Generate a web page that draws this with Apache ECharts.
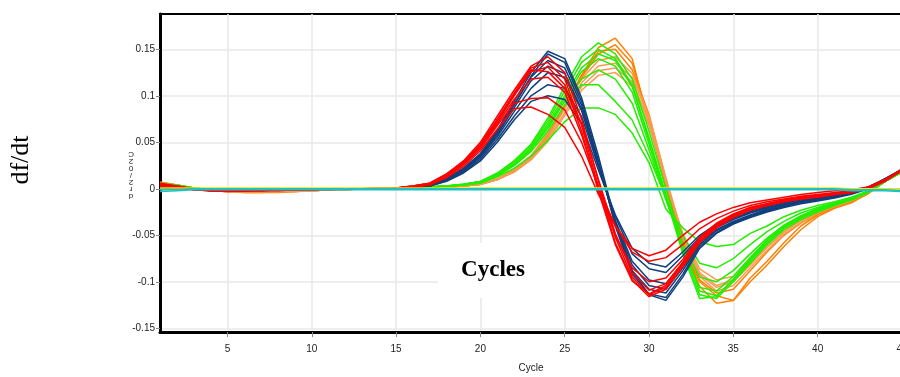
<!DOCTYPE html>
<html>
<head>
<meta charset="utf-8">
<script src="https://cdn.jsdelivr.net/npm/echarts@6/dist/echarts.min.js"></script>
<style>
  html, body { margin: 0; padding: 0; background: #fff; }
  #chart { width: 900px; height: 377px; }
</style>
</head>
<body>
<div id="chart"></div>
<script>
// cycles 1..45
const cycles = []
for (let c = 1; c <= 45; c++) cycles.push(c)

const yTicks = [-0.15, -0.1, -0.05, 0, 0.05, 0.1, 0.15]
const xTicks = [5, 10, 15, 20, 25, 30, 35, 40, 45]

// red group
const red1 = [.004,.002,-.001,-.002,-.002,-.002,-.002,-.001,-.001,-.001,0,0,0,.001,.001,
  .003,.006,.016,.030,.050,.078,.106,.132,.142,.125,.075,.008,-.052,-.095,-.114,
  -.106,-.082,-.056,-.040,-.030,-.022,-.018,-.014,-.011,-.008,-.006,-.004,0,.009,.021]
const red2 = [.005,.003,0,-.002,-.003,-.002,-.002,-.002,-.001,-.001,-.001,0,0,.001,.001,
  .003,.006,.015,.029,.048,.075,.103,.130,.136,.118,.068,.002,-.058,-.098,-.116,
  -.108,-.084,-.058,-.042,-.031,-.023,-.018,-.014,-.011,-.009,-.006,-.004,0,.008,.020]
const red3 = [.003,.001,-.001,-.002,-.002,-.002,-.001,-.001,-.001,-.001,0,0,0,0,.001,
  .002,.005,.014,.027,.046,.072,.100,.126,.131,.112,.062,-.003,-.060,-.099,-.113,
  -.104,-.080,-.054,-.039,-.029,-.021,-.017,-.013,-.010,-.008,-.005,-.003,.001,.009,.020]
const red4 = [.006,.003,0,-.001,-.002,-.002,-.002,-.001,-.001,-.001,0,0,0,.001,.001,
  .003,.006,.016,.029,.047,.074,.101,.128,.126,.108,.070,.010,-.048,-.090,-.109,
  -.102,-.079,-.053,-.038,-.028,-.020,-.016,-.012,-.009,-.007,-.005,-.003,.001,.010,.021]
const red5 = [.004,.002,0,-.001,-.002,-.002,-.001,-.001,-.001,0,0,0,0,0,.001,
  .002,.005,.014,.027,.045,.070,.096,.118,.120,.104,.058,.000,-.050,-.085,-.100,
  -.096,-.076,-.052,-.037,-.027,-.020,-.016,-.012,-.009,-.007,-.005,-.003,.001,.009,.020]
const red6 = [.003,.002,0,-.001,-.001,-.001,-.001,-.001,-.001,0,0,0,0,0,.001,
  .002,.005,.013,.026,.043,.068,.092,.097,.098,.085,.050,.002,-.040,-.068,-.078,
  -.074,-.060,-.043,-.032,-.024,-.018,-.014,-.011,-.008,-.006,-.004,-.002,.001,.009,.019]
const red7 = [.004,.002,-.001,-.002,-.002,-.001,-.001,-.001,-.001,0,0,0,0,0,.001,
  .002,.004,.012,.024,.041,.064,.086,.088,.080,.066,.035,-.006,-.040,-.064,-.072,
  -.066,-.050,-.036,-.027,-.020,-.015,-.012,-.009,-.006,-.004,-.002,-.001,.002,.010,.020]

// blue group
const blue1 = [.002,.001,0,-.001,-.001,-.001,-.001,-.001,-.001,0,0,0,0,0,.001,
  .002,.004,.011,.022,.038,.063,.094,.125,.148,.140,.098,.035,-.035,-.088,-.114,
  -.120,-.095,-.064,-.048,-.038,-.031,-.025,-.020,-.016,-.013,-.010,-.006,0,.010,.020]
const blue2 = [.002,.001,0,-.001,-.001,-.001,-.001,-.001,-.001,0,0,0,0,0,.001,
  .002,.004,.010,.021,.036,.060,.090,.121,.145,.136,.094,.030,-.040,-.092,-.113,
  -.117,-.092,-.062,-.047,-.037,-.030,-.024,-.019,-.015,-.012,-.009,-.005,.001,.011,.021]
const blue3 = [.001,.001,0,-.001,-.001,-.001,-.001,-.001,0,0,0,0,0,0,.001,
  .002,.004,.011,.022,.037,.061,.091,.120,.138,.130,.090,.028,-.038,-.088,-.108,
  -.112,-.088,-.060,-.045,-.036,-.029,-.023,-.018,-.014,-.011,-.008,-.005,0,.010,.020]
const blue4 = [.002,.001,0,-.001,-.001,-.001,-.001,-.001,-.001,0,0,0,0,0,.001,
  .002,.004,.010,.020,.035,.058,.087,.116,.132,.124,.086,.026,-.036,-.082,-.104,
  -.108,-.085,-.058,-.044,-.035,-.028,-.022,-.018,-.014,-.011,-.008,-.004,.001,.010,.020]
const blue5 = [.001,.001,0,-.001,-.001,-.001,-.001,-.001,0,0,0,0,0,0,.001,
  .002,.003,.009,.019,.034,.056,.083,.108,.125,.120,.084,.026,-.034,-.078,-.098,
  -.102,-.080,-.056,-.042,-.033,-.026,-.021,-.017,-.013,-.010,-.007,-.004,.001,.010,.020]
const blue6 = [.002,.001,0,-.001,-.001,-.001,-.001,0,0,0,0,0,0,0,.001,
  .002,.003,.009,.018,.032,.053,.078,.100,.112,.108,.078,.024,-.030,-.070,-.086,
  -.090,-.072,-.052,-.040,-.032,-.025,-.020,-.016,-.012,-.009,-.006,-.003,.002,.011,.021]
const blue7 = [.001,.001,0,-.001,-.001,-.001,-.001,0,0,0,0,0,0,0,.001,
  .001,.003,.008,.017,.030,.050,.074,.094,.100,.096,.070,.020,-.028,-.064,-.080,
  -.084,-.068,-.050,-.038,-.030,-.024,-.019,-.015,-.011,-.008,-.006,-.003,.002,.010,.020]

// green group
const green1 = [.005,.003,.001,-.001,-.002,-.002,-.001,-.001,-.001,-.001,0,0,0,0,0,
  .001,.002,.003,.005,.008,.016,.030,.048,.076,.110,.142,.157,.145,.118,.062,
  .000,-.060,-.110,-.115,-.098,-.078,-.058,-.042,-.031,-.023,-.017,-.011,-.003,.008,.018]
const green2 = [.006,.004,.001,-.001,-.002,-.002,-.002,-.001,-.001,-.001,0,0,0,0,0,
  .001,.002,.003,.005,.008,.017,.030,.047,.073,.105,.136,.150,.140,.112,.055,
  -.006,-.066,-.114,-.118,-.100,-.080,-.060,-.044,-.033,-.025,-.018,-.012,-.004,.008,.018]
const green3 = [.004,.003,.001,-.001,-.001,-.002,-.001,-.001,-.001,0,0,0,0,0,0,
  .001,.002,.003,.005,.008,.016,.028,.045,.070,.100,.130,.145,.138,.110,.052,
  -.008,-.070,-.118,-.116,-.097,-.076,-.056,-.041,-.031,-.023,-.017,-.011,-.003,.008,.019]
const green4 = [.005,.003,.001,-.001,-.002,-.002,-.001,-.001,-.001,-.001,0,0,0,0,0,
  .001,.002,.003,.004,.007,.015,.027,.043,.067,.097,.126,.140,.132,.104,.048,
  -.010,-.066,-.106,-.110,-.094,-.074,-.055,-.040,-.030,-.022,-.016,-.010,-.003,.008,.018]
const green5 = [.004,.002,.001,-.001,-.001,-.001,-.001,-.001,0,0,0,0,0,0,0,
  .001,.002,.003,.004,.007,.014,.026,.042,.065,.094,.118,.128,.118,.092,.042,
  -.012,-.060,-.095,-.100,-.088,-.070,-.053,-.039,-.029,-.021,-.015,-.010,-.003,.008,.018]
const green6 = [.005,.003,.001,-.001,-.002,-.001,-.001,-.001,0,0,0,0,0,0,0,
  .001,.002,.003,.004,.007,.014,.025,.040,.062,.090,.112,.112,.094,.074,.035,
  -.010,-.050,-.080,-.085,-.075,-.060,-.046,-.035,-.026,-.020,-.015,-.010,-.003,.008,.018]
const green7 = [.004,.002,0,-.001,-.001,-.001,-.001,0,0,0,0,0,0,0,0,
  .001,.002,.003,.004,.006,.013,.022,.035,.052,.072,.087,.087,.080,.060,.028,
  -.022,-.042,-.057,-.062,-.060,-.048,-.040,-.030,-.023,-.018,-.014,-.009,-.002,.008,.018]

// orange group
const orange1 = [.006,.004,.001,-.002,-.003,-.003,-.003,-.003,-.003,-.002,-.001,-.001,0,0,0,
  .001,.001,.002,.003,.005,.010,.019,.033,.055,.088,.122,.152,.162,.140,.070,
  .005,-.060,-.105,-.123,-.120,-.096,-.078,-.058,-.040,-.028,-.020,-.014,-.005,.008,.020]
const orange2 = [.007,.004,.001,-.002,-.003,-.004,-.004,-.003,-.003,-.002,-.001,-.001,0,0,0,
  .001,.001,.002,.003,.005,.010,.020,.035,.058,.090,.122,.148,.150,.128,.080,
  .010,-.055,-.098,-.112,-.108,-.088,-.068,-.050,-.037,-.027,-.020,-.014,-.005,.008,.020]
const orange3 = [.005,.003,.001,-.002,-.003,-.003,-.003,-.003,-.002,-.002,-.001,-.001,0,0,0,
  .001,.001,.002,.003,.005,.011,.021,.036,.060,.090,.118,.138,.142,.124,.078,
  .012,-.050,-.094,-.110,-.104,-.085,-.066,-.049,-.036,-.026,-.019,-.013,-.004,.008,.020]
const orange4 = [.006,.003,.001,-.002,-.003,-.003,-.003,-.003,-.003,-.002,-.001,0,0,0,0,
  .001,.001,.002,.003,.005,.010,.019,.034,.056,.086,.114,.132,.135,.120,.076,
  .010,-.052,-.092,-.106,-.100,-.082,-.063,-.047,-.034,-.025,-.018,-.012,-.004,.008,.019]
const orange5 = [.005,.003,.001,-.002,-.002,-.003,-.003,-.002,-.002,-.002,-.001,0,0,0,0,
  .001,.001,.002,.003,.005,.010,.018,.032,.053,.082,.110,.127,.130,.115,.072,
  .008,-.050,-.090,-.104,-.098,-.080,-.062,-.046,-.034,-.025,-.018,-.012,-.004,.008,.019]
const orange6 = [.006,.004,.001,-.001,-.002,-.003,-.003,-.003,-.002,-.002,-.001,0,0,0,0,
  .001,.001,.002,.003,.005,.010,.018,.031,.051,.079,.106,.122,.125,.110,.068,
  .006,-.048,-.086,-.098,-.094,-.076,-.058,-.044,-.032,-.024,-.017,-.011,-.004,.008,.019]
const orange7 = [.007,.004,.001,-.002,-.003,-.004,-.004,-.004,-.003,-.002,-.001,-.001,0,0,0,
  .001,.001,.002,.003,.005,.010,.019,.034,.057,.088,.120,.145,.155,.135,.075,
  .000,-.062,-.100,-.115,-.120,-.100,-.082,-.062,-.044,-.030,-.021,-.015,-.005,.008,.020]

// flat (negative controls)
const teal1 = [-.003,-.002,-.001,-.001,-.001,-.001,-.001,-.001,-.001,-.001,-.001,-.001,-.001,-.001,-.001,
  -.001,-.001,-.001,-.001,-.001,-.001,-.001,-.001,-.001,-.001,-.001,-.001,-.001,-.001,-.001,
  -.001,-.001,-.001,-.001,-.001,-.001,-.001,-.001,-.001,-.001,-.001,-.002,-.002,-.002,-.003]
const teal2 = [-.001,-.001,0,0,0,0,0,0,0,0,0,0,0,0,0,
  0,0,0,0,0,0,0,0,0,0,0,0,0,0,0,
  0,0,0,0,0,0,0,0,0,0,0,-.001,-.001,-.001,-.002]
const yellow1 = [.001,.001,.001,.001,.001,.001,.001,.001,.001,.001,.001,.001,.001,.001,.001,
  .001,.001,.001,.001,.001,.001,.001,.001,.001,.001,.001,.001,.001,.001,.001,
  .001,.001,.001,.001,.001,.001,.001,.001,.001,.001,.001,0,0,0,0]

const groups = [
  { color: '#ff8000', lines: [orange1, orange2, orange7] },
  { color: '#fb9a52', lines: [orange3, orange4, orange5, orange6] },
  { color: '#22ee00', lines: [green1, green2, green3, green4, green5, green6, green7] },
  { color: '#0f3f7c', lines: [blue1, blue2, blue3, blue4, blue5, blue6, blue7] },
  { color: '#ff0000', lines: [red1, red2, red3, red4, red5, red6, red7] },
  { color: '#e6e600', lines: [yellow1] },
  { color: '#1fc2c2', lines: [teal1, teal2] }
]

const series = []
groups.forEach(g => {
  g.lines.forEach(vals => {
    series.push({
      type: 'line',
      data: vals.map((v, i) => [cycles[i], v]),
      showSymbol: false,
      smooth: false,
      lineStyle: { color: g.color, width: 1.5 },
      itemStyle: { color: g.color },
      silent: true,
      animation: false
    })
  })
})

const tickFont = "'Liberation Sans', Arial, sans-serif"

let myChart = echarts.init(document.getElementById('chart'))
let option = {
  backgroundColor: '#FFFFFF',
  animation: false,
  grid: {
    left: 160,
    right: -2,
    top: 14,
    bottom: 45,
    outerBoundsMode: 'none',
    containLabel: false,
    show: true,
    borderColor: '#000',
    borderWidth: 2
  },
  xAxis: {
    type: 'value',
    min: 1,
    max: 45,
    name: 'Cycle',
    nameLocation: 'middle',
    nameGap: 31,
    nameTextStyle: { color: '#222', fontSize: 10, fontFamily: tickFont },
    axisLine: { onZero: false, lineStyle: { color: '#000', width: 3 } },
    axisTick: { show: true, length: 5, customValues: xTicks, lineStyle: { color: '#888' } },
    axisLabel: { customValues: xTicks, margin: 12, color: '#222', fontSize: 10, fontFamily: tickFont },
    splitLine: { show: true, lineStyle: { color: '#e8e8e8', width: 1.5 } }
  },
  yAxis: {
    type: 'value',
    min: -0.154,
    max: 0.188,
    axisLine: { show: true, onZero: false, lineStyle: { color: '#000', width: 3 } },
    axisTick: { show: true, length: 4, customValues: yTicks, lineStyle: { color: '#888' } },
    axisLabel: {
      customValues: yTicks,
      margin: 5,
      color: '#222',
      fontSize: 10,
      fontFamily: tickFont,
      formatter: v => String(Math.round(v * 100) / 100)
    },
    splitLine: { show: true, lineStyle: { color: '#e8e8e8', width: 1.5 } }
  },
  graphic: [
    {
      type: 'text',
      x: 21, y: 160,
      rotation: Math.PI / 2,
      style: {
        text: 'df/dt',
        font: "26px 'Liberation Serif', 'Times New Roman', serif",
        fill: '#000',
        align: 'center',
        verticalAlign: 'middle'
      }
    },
    {
      type: 'text',
      x: 131, y: 175,
      rotation: Math.PI,
      style: {
        text: 'd\nr\n2\n/\n0\n2\nC',
        font: "8px 'Liberation Sans', Arial, sans-serif",
        lineHeight: 7,
        fill: '#222',
        align: 'center',
        verticalAlign: 'middle'
      }
    },
    {
      type: 'rect',
      z: 50,
      shape: { x: 438, y: 243, width: 125, height: 55 },
      style: { fill: '#fff' }
    },
    {
      type: 'text',
      z: 51,
      x: 493, y: 270,
      style: {
        text: 'Cycles',
        font: "bold 23px 'Liberation Serif', 'Times New Roman', serif",
        fill: '#000',
        align: 'center',
        verticalAlign: 'middle'
      }
    }
  ],
  series: series
}
myChart.setOption(option)
window.addEventListener('resize', function() {
  myChart.resize()
})
</script>
</body>
</html>
